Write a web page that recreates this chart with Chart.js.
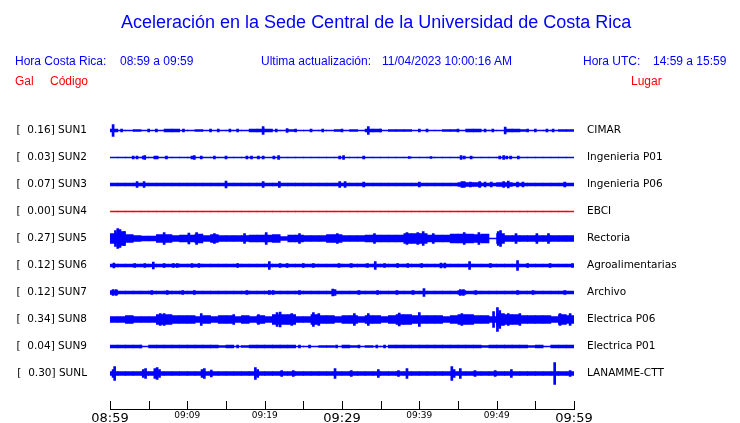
<!DOCTYPE html>
<html>
<head>
<meta charset="utf-8">
<script src="https://cdn.jsdelivr.net/npm/chart.js@4.4.0/dist/chart.umd.min.js"></script>
<style>
  body { margin: 0; background: #fff; overflow: hidden; }
  #wrap { position: relative; width: 740px; height: 423px; }
  #wrap canvas { position: absolute; left: 0; top: 0; }
  .t { position: absolute; white-space: pre; font-family: "Liberation Sans", Arial, sans-serif; line-height: 1; }
  .blue { color: #0000ff; }
  .red { color: #ff0000; }
</style>
</head>
<body>
<div id="wrap">
  <canvas id="sismo" width="740" height="423"></canvas>
  <div class="t blue" style="left:121px; top:13px; font-size:18px;">Aceleración en la Sede Central de la Universidad de Costa Rica</div>
  <div class="t blue" style="left:15px; top:55px; font-size:12px;">Hora Costa Rica:</div>
  <div class="t blue" style="left:120px; top:55px; font-size:12px;">08:59 a 09:59</div>
  <div class="t blue" style="left:261px; top:55px; font-size:12px;">Ultima actualización:</div>
  <div class="t blue" style="left:382px; top:55px; font-size:12px;">11/04/2023 10:00:16 AM</div>
  <div class="t blue" style="left:583px; top:55px; font-size:12px;">Hora UTC:</div>
  <div class="t blue" style="left:653px; top:55px; font-size:12px;">14:59 a 15:59</div>
  <div class="t red" style="left:15px; top:75px; font-size:12px;">Gal</div>
  <div class="t red" style="left:50px; top:75px; font-size:12px;">Código</div>
  <div class="t red" style="left:631px; top:75px; font-size:12px;">Lugar</div>
</div>
<script>
// estaciones
var codes = ['SUN1', 'SUN2', 'SUN3', 'SUN4', 'SUN5', 'SUN6', 'SUN7', 'SUN8', 'SUN9', 'SUNL'];
var gals = ['0.16', '0.03', '0.07', '0.00', '0.27', '0.12', '0.12', '0.34', '0.04', '0.30'];
var places = ['CIMAR', 'Ingenieria P01', 'Ingenieria P06', 'EBCI', 'Rectoria',
    'Agroalimentarias', 'Archivo', 'Electrica P06', 'Electrica P01', 'LANAMME-CTT'];
var lineColors = ['#0000ff', '#0000ff', '#0000ff', '#ff0000', '#0000ff',
    '#0000ff', '#0000ff', '#0000ff', '#0000ff', '#0000ff'];

// envolvente por minuto (08:59 + i), media amplitud
var sun1Env = [1.5, 0.5, 0.5, 1, 0.5, 0.5, 0.5, 1.5, 1.5, 0.5,
    0.5, 1, 0.5, 0.5, 0.5, 0.5, 0.5, 0.5, 1.5, 1.5,
    1.5, 0.5, 0.5, 1, 0.5, 0.5, 0.5, 0.5, 0.5, 1,
    0.5, 1, 0.5, 1.5, 1.5, 0.5, 1, 1, 1, 0.5,
    0.5, 0.5, 0.5, 1, 1, 0.5, 1.5, 1.5, 0.5, 0.5,
    0.5, 1.5, 1.5, 1, 0.5, 0.5, 0.5, 0.5, 1, 1];
var sun2Env = [0.5, 0.5, 0.5, 0.5, 0.5, 0.5, 0.5, 0.5, 0.5, 0.5,
    0.5, 0.5, 0.5, 0.5, 0.5, 0.5, 0.5, 0.5, 0.5, 0.5,
    0.5, 0.5, 0.5, 0.5, 0.5, 0.5, 0.5, 0.5, 0.5, 0.5,
    0.5, 0.5, 0.5, 0.5, 0.5, 0.5, 0.5, 0.5, 0.5, 0.5,
    0.5, 0.5, 0.5, 0.5, 0.5, 0.5, 0.5, 0.5, 0.5, 0.5,
    0.5, 0.5, 0.5, 0.5, 0.5, 0.5, 0.5, 0.5, 0.5, 0.5];
var sun3Env = [1.5, 1.5, 1.5, 1.5, 1.5, 1.5, 1.5, 1.5, 1.5, 1.5,
    1.5, 1.5, 1.5, 1.5, 1.5, 1.5, 1.5, 1.5, 1.5, 1.5,
    1.5, 1.5, 1.5, 1.5, 1.5, 1.5, 1.5, 1.5, 1.5, 1.5,
    1.5, 1.5, 1.5, 1.5, 1.5, 1.5, 1.5, 1.5, 1.5, 1.5,
    1.5, 1.5, 1.5, 1.5, 1.5, 2, 2, 2, 1.5, 1.5,
    2, 2, 1.5, 1.5, 1.5, 1.5, 1.5, 1.5, 1.5, 1.5];
var sun4Env = [0, 0, 0, 0, 0, 0, 0, 0, 0, 0,
    0, 0, 0, 0, 0, 0, 0, 0, 0, 0,
    0, 0, 0, 0, 0, 0, 0, 0, 0, 0,
    0, 0, 0, 0, 0, 0, 0, 0, 0, 0,
    0, 0, 0, 0, 0, 0, 0, 0, 0, 0,
    0, 0, 0, 0, 0, 0, 0, 0, 0, 0];
var sun5Env = [5, 7, 4, 3, 2.5, 2.5, 4, 4, 3, 3.5,
    3.5, 4.5, 3, 4, 3, 3, 3, 3, 3.5, 3.5,
    3.5, 4, 2, 3.5, 3.5, 3, 3, 3, 4, 4,
    3, 3, 3, 3.5, 3.5, 3.5, 3.5, 3.5, 5, 5,
    5, 3.5, 3.5, 3.5, 4.5, 4.5, 4.5, 4, 4.5, 0.5,
    5, 3, 3, 3, 3, 3, 3, 3, 3, 3];
var sun6Env = [1.5, 1.5, 1.5, 1.5, 1.5, 1.5, 1.5, 1.5, 1.5, 1.5,
    1.5, 1.5, 1.5, 1.5, 1.5, 1.5, 1.5, 1.5, 1.5, 1.5,
    1.5, 1.5, 1.5, 1.5, 1.5, 1.5, 1.5, 1.5, 1.5, 1.5,
    1.5, 1.5, 1.5, 1.5, 1.5, 1.5, 1.5, 1.5, 1.5, 1.5,
    1.5, 1.5, 1.5, 1.5, 1.5, 1.5, 1.5, 1.5, 1.5, 1.5,
    1.5, 1.5, 1.5, 1.5, 1.5, 1.5, 1.5, 1.5, 1.5, 1.5];
var sun7Env = [2, 1.5, 1.5, 1.5, 1.5, 1.5, 1.5, 1.5, 1.5, 1.5,
    1.5, 1.5, 1.5, 1.5, 1.5, 1.5, 1.5, 1.5, 1.5, 1.5,
    1.5, 1.5, 1.5, 1.5, 1.5, 1.5, 1.5, 1.5, 1.5, 1.5,
    1.5, 1.5, 1.5, 1.5, 1.5, 1.5, 1.5, 1.5, 1.5, 1.5,
    1.5, 1.5, 1.5, 1.5, 1.5, 2, 1.5, 1.5, 1.5, 1.5,
    1.5, 1.5, 1.5, 1.5, 1.5, 1.5, 1.5, 1.5, 1.5, 1.5];
var sun8Env = [3, 3, 4, 3, 3, 3, 5, 5, 4, 4,
    4, 3, 4, 3, 4, 4, 3, 4, 3, 4,
    3, 5, 5, 5, 3, 3, 5, 4, 4, 3,
    4, 4, 3, 4, 4, 3, 4, 5, 5, 4,
    4, 4, 4, 3, 4, 5, 5, 4, 4, 3,
    6, 5, 5, 4, 4, 4, 4, 3, 5, 4];
var sun9Env = [1.5, 1.5, 1.5, 1.5, 0.5, 1.5, 1.5, 1.5, 1.5, 1.5,
    1.5, 1.5, 1.5, 1.5, 1, 1.5, 0.5, 1, 1.5, 1.5,
    1.5, 1.5, 1.5, 1.5, 0.5, 0.5, 0.5, 1, 1, 0.5,
    1.5, 1, 0.5, 1, 0.5, 0.5, 1.5, 1.5, 1.5, 1.5,
    1.5, 1.5, 1.5, 1.5, 1.5, 1.5, 1.5, 1.5, 1, 1.5,
    1.5, 1.5, 1.5, 1.5, 1, 1.5, 0.5, 1.5, 1.5, 1.5];
var sunLEnv = [2, 2, 2, 2, 2, 2, 2, 2, 2, 2,
    2, 2, 2, 2, 2, 2, 2, 2, 2, 2,
    2, 2, 2, 2, 2, 2, 2, 2, 2, 2,
    2, 2, 2, 2, 2, 2, 2, 2, 2, 2,
    2, 2, 2, 2, 2, 2, 2, 2, 2, 2,
    2, 2, 2, 2, 2, 2, 2, 2, 2, 2];

// picos: [minuto, media amplitud]
var sun1Spikes = [[0.4, 6], [1.5, 1.5], [5, 1.5], [6, 1.5], [9.5, 1.5], [13, 1.5], [14, 1.5], [15.5, 1.5],
    [16.5, 1.5], [19.8, 4], [21.5, 1.5], [22.9, 2], [24, 1.5], [26, 1.5], [27.5, 1.5], [30, 1.5],
    [33.4, 4], [35, 1.5], [40, 1.5], [41, 1.5], [45, 1.5], [48.5, 1.5], [49.5, 1.5], [51.1, 3.5],
    [54, 1.5], [55, 1.5], [56.5, 1.5], [57.3, 1.5]];
var sun2Spikes = [[3, 1.5], [3.5, 1.5], [4.3, 1.5], [4.5, 2], [5.8, 1.5], [6.1, 1.5], [7.3, 1.5],
    [10.6, 1.5], [10.9, 2], [11.8, 1.5], [13.5, 1.5], [15, 1.5], [17.7, 1.5], [18.3, 1.5], [19.2, 1.5],
    [19.8, 1.5], [21.2, 1.5], [21.8, 2], [29.7, 1.5], [30.2, 2], [32.8, 1.5], [38.7, 1], [41.5, 1],
    [45.4, 2], [45.8, 1.5], [46.7, 1.5], [50.4, 1.5], [50.9, 2], [51.3, 1.5], [51.8, 1.5], [52.8, 1.5]];
var sun3Spikes = [[3.5, 3], [4.4, 3], [15, 3.5], [19.8, 3], [21.9, 3], [29.7, 3], [30.4, 3], [32.8, 2.5],
    [40, 2.5], [45.5, 3], [45.8, 3], [46.6, 2.5], [47.8, 3], [48.5, 2.5], [49.3, 2.5], [50.9, 3],
    [51.5, 3.5], [52.7, 2.5], [53.4, 2.5], [58.8, 2.5]];
var sun4Spikes = [];
var sun5Spikes = [[0.7, 8], [1.0, 10], [1.3, 9], [1.8, 7], [7, 6], [10.2, 5.5], [11.2, 6], [13.5, 5],
    [17.4, 5], [20.2, 6], [24.5, 5], [29.4, 5], [34.2, 5], [38.4, 6], [39.8, 6], [40.5, 7], [41.8, 5],
    [45.8, 6], [47.7, 6], [50.2, 7], [50.5, 8], [52.5, 5], [55.2, 5], [56.7, 5]];
var sun6Spikes = [[0.5, 2.5], [3.2, 2], [4.5, 2], [5.6, 3.5], [7, 2], [8.2, 2], [8.7, 2], [10.6, 2],
    [11.5, 2], [16.5, 2], [20.6, 4], [22, 2], [22.9, 2], [25, 2], [26.3, 2], [29.6, 2], [31.2, 2],
    [33.3, 2], [34.3, 4], [35.5, 2], [37.2, 2], [38.5, 2], [40.3, 2], [42.8, 2.5], [43.3, 2.5],
    [46.5, 4], [49.2, 2], [52.7, 5], [54, 2], [56.9, 2], [59.8, 2]];
var sun7Spikes = [[0.4, 3], [0.8, 3], [5.4, 2], [7.4, 2], [9.4, 2], [10.9, 2], [17.7, 2], [20.6, 2],
    [21.1, 2], [24.5, 2], [28.8, 3.5], [29.1, 3], [32.2, 2], [34.6, 2], [37.1, 2], [39.2, 2],
    [40.6, 4], [45.3, 3], [45.7, 3], [47.3, 2], [52.7, 2], [54.7, 2], [58.8, 2]];
var sun8Spikes = [[6.5, 6], [7, 6], [11.8, 6], [16, 5], [19.2, 5], [21.6, 7], [22, 7.5], [23.5, 6],
    [26.3, 7], [27, 6], [31.6, 6], [33.4, 6], [37.4, 6.5], [40, 7], [45.5, 6], [49.6, 8], [50.1, 12],
    [50.4, 9], [51.5, 6], [53, 6], [58.2, 6], [59.5, 6]];
var sun9Spikes = [[4, 1.5], [16.5, 1.5], [24.5, 1.5], [25.8, 1.5], [29.3, 1.5], [32.2, 1.5],
    [34.5, 1.5], [35.5, 1.5]];
var sunLSpikes = [[0.4, 4], [0.6, 7], [4.3, 4], [4.6, 5], [5.8, 5], [6.1, 6], [6.4, 4], [11.9, 4],
    [12.2, 5], [13.1, 3.5], [18.8, 6], [19.1, 4], [22.2, 3], [23.7, 3], [29.1, 5], [31.2, 3],
    [34.7, 4], [37.3, 3], [38.4, 5], [44.2, 7], [44.5, 4], [45.3, 5], [47.2, 3], [49.8, 3],
    [51.9, 4], [57.5, 11], [59.5, 3]];

var envs = [sun1Env, sun2Env, sun3Env, sun4Env, sun5Env, sun6Env, sun7Env, sun8Env, sun9Env, sunLEnv];
var spikes = [sun1Spikes, sun2Spikes, sun3Spikes, sun4Spikes, sun5Spikes, sun6Spikes,
    sun7Spikes, sun8Spikes, sun9Spikes, sunLSpikes];

var startMin = 8 * 60 + 59;   // 08:59
var spanMin = 60;
var traceUnit = 27;           // amplitud que ocupa una traza completa

function hhmm(v) {
    var t = startMin + v;
    var h = Math.floor(t / 60), m = t % 60;
    return (h < 10 ? '0' : '') + h + ':' + (m < 10 ? '0' : '') + m;
}

var datasets = [];
codes.forEach(function (code, i) {
    var k = i + 1;
    datasets.push({
        type: 'bar',
        label: code,
        data: envs[i].map(function (a, m) {
            var h = Math.max(a, 0.5) / traceUnit;
            return {x: m + 0.5, y: [k - h, k + h]};
        }),
        backgroundColor: lineColors[i],
        barThickness: 7.9,
        stack: 'traza'
    });
    datasets.push({
        type: 'bar',
        label: code + ' picos',
        data: spikes[i].map(function (s) {
            var h = s[1] / traceUnit;
            return {x: s[0], y: [k - h, k + h]};
        }),
        backgroundColor: lineColors[i],
        barThickness: 2,
        stack: 'traza'
    });
});

// marcas del eje hacia arriba
var upTicks = {
    id: 'upTicks',
    afterDraw: function (chart) {
        var xs = chart.scales.x, ctx = chart.ctx, y0 = Math.round(chart.chartArea.bottom);
        ctx.save();
        ctx.strokeStyle = '#000';
        ctx.lineWidth = 1;
        xs.ticks.forEach(function (t) {
            var px = Math.round(xs.getPixelForValue(t.value)) + 0.5;
            ctx.beginPath();
            ctx.moveTo(px, y0);
            ctx.lineTo(px, y0 - 9);
            ctx.stroke();
        });
        ctx.restore();
    }
};

var labelFont = {family: 'DejaVu Sans', size: 10.5};

function fixSide(w) {
    return function (s) {
        s.width = w;
        s.paddingTop = 0;
        s.paddingBottom = 0;
    };
}

new Chart(document.getElementById('sismo'), {
    type: 'bar',
    data: {datasets: datasets},
    plugins: [upTicks],
    options: {
        responsive: false,
        animation: false,
        layout: {padding: {top: 103.5, left: 0, right: 0, bottom: 0}},
        plugins: {legend: {display: false}, tooltip: {enabled: false}},
        scales: {
            x: {
                type: 'linear',
                offset: false,
                min: 0,
                max: spanMin,
                grid: {display: false, drawTicks: false},
                border: {display: true, color: '#000', width: 1},
                afterFit: function (s) {
                    s.height = 13.5;
                    s.paddingLeft = 0;
                    s.paddingRight = 0;
                },
                ticks: {
                    stepSize: 5,
                    autoSkip: false,
                    maxRotation: 0,
                    padding: 1,
                    color: '#000',
                    font: function (ctx) {
                        var big = ctx.tick && ctx.tick.value % 30 === 0;
                        return {family: 'DejaVu Sans', size: big ? 13 : 9};
                    },
                    callback: function (v) { return v % 10 === 0 ? hhmm(v) : ''; }
                }
            },
            y: {
                type: 'linear',
                position: 'left',
                reverse: true,
                stacked: false,
                min: 0,
                max: 306 / traceUnit,
                grid: {display: false, drawTicks: false},
                border: {display: false},
                afterFit: fixSide(110),
                afterBuildTicks: function (s) {
                    s.ticks = codes.map(function (c, i) { return {value: i + 1}; });
                },
                ticks: {
                    padding: 23,
                    color: '#000',
                    font: labelFont,
                    callback: function (v, i) { return '[  ' + gals[i] + '] ' + codes[i]; }
                }
            },
            y2: {
                type: 'linear',
                position: 'right',
                reverse: true,
                stacked: false,
                min: 0,
                max: 306 / traceUnit,
                grid: {display: false, drawTicks: false},
                border: {display: false},
                afterFit: fixSide(166),
                afterBuildTicks: function (s) {
                    s.ticks = places.map(function (p, i) { return {value: i + 1}; });
                },
                ticks: {
                    padding: 13,
                    color: '#000',
                    font: labelFont,
                    callback: function (v, i) { return places[i]; }
                }
            }
        }
    }
});
</script>
</body>
</html>
